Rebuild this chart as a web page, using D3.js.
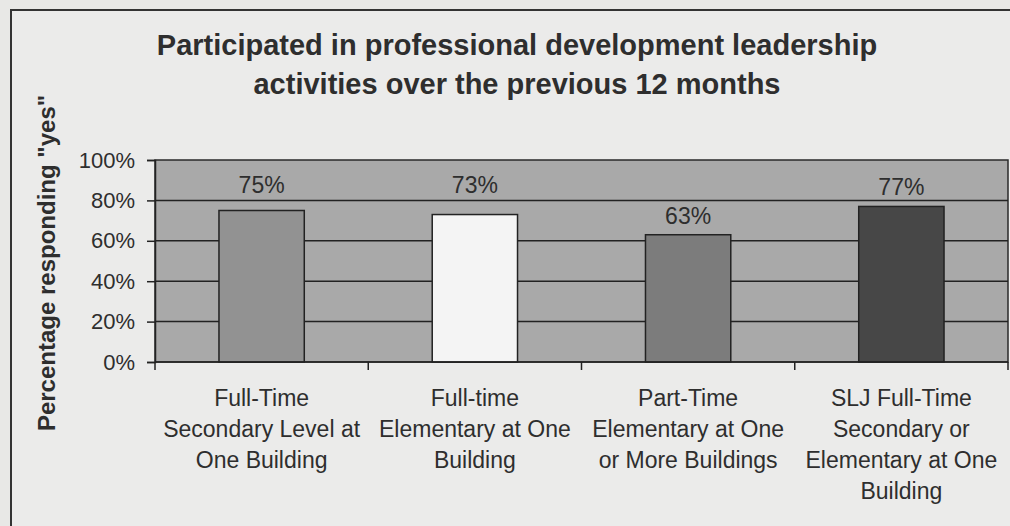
<!DOCTYPE html>
<html>
<head>
<meta charset="utf-8">
<script src="https://cdn.jsdelivr.net/npm/d3@7"></script>
<style>
  body { margin: 0; background: #e8e8e6; }
  svg { display: block; font-family: Arial, "Liberation Sans", sans-serif; }
</style>
</head>
<body>
<svg width="1010" height="526"></svg>
<script>
const categories = [
  ['Full-Time', 'Secondary Level at', 'One Building'],
  ['Full-time', 'Elementary at One', 'Building'],
  ['Part-Time', 'Elementary at One', 'or More Buildings'],
  ['SLJ Full-Time', 'Secondary or', 'Elementary at One', 'Building']
];
const values = [75, 73, 63, 77];
const barColors = ['#929292', '#f4f4f4', '#7c7c7c', '#474747'];
const yTicks = [0, 20, 40, 60, 80, 100];
const titleLines = ['Participated in professional development leadership', 'activities over the previous 12 months'];
const yTitle = 'Percentage responding "yes"';

const svg = d3.select('svg');
const ink = '#2e2e2e';

// chart frame (clipped by the scan on right and bottom)
svg.append('rect')
  .attr('x', 11).attr('y', 10)
  .attr('width', 1030).attr('height', 560)
  .attr('fill', '#ebebea')
  .attr('stroke', '#333').attr('stroke-width', 2);

const plot = { left: 155, right: 1008, top: 160, bottom: 362 };

const x = d3.scaleBand()
  .domain(d3.range(categories.length))
  .range([plot.left, plot.right]);

const y = d3.scaleLinear()
  .domain([0, 100])
  .range([plot.bottom, plot.top]);

// plot area
svg.append('rect')
  .attr('x', plot.left).attr('y', plot.top)
  .attr('width', plot.right - plot.left).attr('height', plot.bottom - plot.top)
  .attr('fill', '#a9a9a9')
  .attr('stroke', '#2a2a2a').attr('stroke-width', 1.5);

// gridlines
const grid = yTicks.filter(t => t > 0 && t < 100);
svg.append('g')
  .selectAll('line')
  .data(grid)
  .enter()
  .append('line')
  .attr('x1', plot.left).attr('x2', plot.right)
  .attr('y1', d => y(d)).attr('y2', d => y(d))
  .attr('stroke', '#222').attr('stroke-width', 1.5);

// bars
const barW = x.bandwidth() * 0.4;
svg.append('g')
  .selectAll('rect')
  .data(values)
  .enter()
  .append('rect')
  .attr('x', (d, i) => x(i) + (x.bandwidth() - barW) / 2)
  .attr('y', d => y(d))
  .attr('width', barW)
  .attr('height', d => y(0) - y(d))
  .attr('fill', (d, i) => barColors[i])
  .attr('stroke', '#222').attr('stroke-width', 1.5);

// value labels, nudged above a gridline they would sit on
const labelY = v => {
  let base = y(v) - 11;
  const hit = grid.find(g => y(g) >= base - 16 && y(g) <= base + 3);
  if (hit !== undefined) base = y(hit) - 7;
  return base;
};
svg.append('g')
  .selectAll('text')
  .data(values)
  .enter()
  .append('text')
  .attr('x', (d, i) => x(i) + x.bandwidth() / 2)
  .attr('y', d => labelY(d))
  .attr('text-anchor', 'middle')
  .attr('font-size', 23)
  .attr('fill', ink)
  .text(d => d + '%');

// y axis
const yAxis = svg.append('g')
  .attr('transform', `translate(${plot.left},0)`)
  .call(d3.axisLeft(y).tickValues(yTicks).tickFormat(d => d + '%').tickSize(8).tickPadding(12));
yAxis.select('.domain').attr('stroke', '#222').attr('stroke-width', 1.5);
yAxis.selectAll('.tick line').attr('stroke', '#222').attr('stroke-width', 1.5);
yAxis.selectAll('.tick text')
  .attr('font-size', 22).attr('fill', ink)
  .attr('font-family', 'Arial, "Liberation Sans", sans-serif');

// x axis ticks at band edges
const xAxis = svg.append('g');
xAxis.append('line')
  .attr('x1', plot.left).attr('x2', plot.right)
  .attr('y1', plot.bottom).attr('y2', plot.bottom)
  .attr('stroke', '#222').attr('stroke-width', 1.5);
xAxis.selectAll('.edge')
  .data(d3.range(categories.length + 1))
  .enter()
  .append('line')
  .attr('class', 'edge')
  .attr('x1', i => plot.left + i * x.bandwidth())
  .attr('x2', i => plot.left + i * x.bandwidth())
  .attr('y1', plot.bottom).attr('y2', plot.bottom + 8)
  .attr('stroke', '#222').attr('stroke-width', 1.5);

// category labels
const catText = svg.append('g')
  .selectAll('text')
  .data(categories)
  .enter()
  .append('text')
  .attr('text-anchor', 'middle')
  .attr('font-size', 23)
  .attr('fill', ink);
catText.selectAll('tspan')
  .data((d, i) => d.map(line => ({ line, i })))
  .enter()
  .append('tspan')
  .attr('x', d => x(d.i) + x.bandwidth() / 2)
  .attr('y', (d, j) => 406 + j * 31)
  .text(d => d.line);

// title
svg.append('g')
  .selectAll('text')
  .data(titleLines)
  .enter()
  .append('text')
  .attr('x', 517)
  .attr('y', (d, i) => 55 + i * 39)
  .attr('text-anchor', 'middle')
  .attr('font-size', 29)
  .attr('font-weight', 'bold')
  .attr('fill', ink)
  .text(d => d);

// y axis title
svg.append('text')
  .attr('transform', 'translate(55,263) rotate(-90)')
  .attr('text-anchor', 'middle')
  .attr('font-size', 24)
  .attr('font-weight', 'bold')
  .attr('fill', ink)
  .text(yTitle);
</script>
</body>
</html>
